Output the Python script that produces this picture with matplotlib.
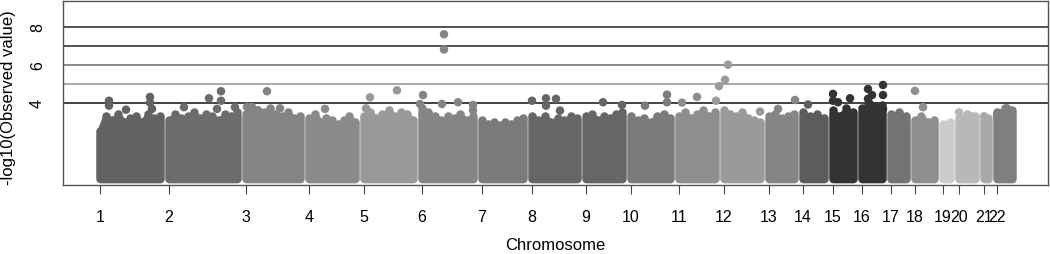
import numpy as np
import matplotlib
matplotlib.use("Agg")
from matplotlib import pyplot as plt

plt.rcParams["font.family"] = ["Liberation Sans", "DejaVu Sans"]

# chromosome names and start positions (cumulative plot units)
chroms = [str(c) for c in range(1, 23)]
chrom_start = [37, 106, 183, 246, 301, 359, 419, 469, 523, 568, 616, 661,
               706, 740, 770, 799, 828, 852, 880, 896, 921, 934]
chrom_end_last = 949

# grey level of each chromosome
chrom_color = ["#636363", "#6c6c6c", "#848484", "#8a8a8a", "#999999", "#858585",
               "#7b7b7b", "#666666", "#666666", "#7a7a7a", "#8e8e8e", "#9a9a9a",
               "#858585", "#5c5c5c", "#333333", "#333333", "#737373", "#8f8f8f",
               "#cccccc", "#b8b8b8", "#a9a9a9", "#7f7f7f"]

# upper edge of the dense cloud of SNPs, -log10(p), per chromosome
cloud_top = [
    [2.5, 3.3, 3.1, 3.4, 3.0, 3.2, 3.3, 3.0, 3.4, 3.2, 3.3],
    [3.1, 3.4, 3.2, 3.3, 3.5, 3.2, 3.4, 3.3, 3.1, 3.4, 3.3, 3.5],
    [3.4, 3.6, 3.3, 3.5, 3.7, 3.4, 3.3, 3.5, 3.2, 3.3],
    [3.2, 3.4, 3.0, 3.2, 3.1, 2.9, 3.1, 3.3, 3.0],
    [3.3, 3.5, 3.2, 3.4, 3.6, 3.3, 3.5, 3.4, 3.1],
    [3.7, 3.5, 3.3, 3.1, 3.3, 3.2, 3.4, 3.1, 3.3],
    [3.1, 2.9, 3.0, 2.8, 3.0, 2.9, 3.1, 3.2],
    [3.3, 3.1, 3.3, 3.0, 3.2, 3.1, 3.3, 3.2],
    [3.3, 3.4, 3.1, 3.3, 3.2, 3.4, 3.5],
    [3.3, 3.1, 3.2, 3.0, 3.3, 3.4, 3.2],
    [3.3, 3.5, 3.2, 3.4, 3.6, 3.3, 3.5],
    [3.6, 3.4, 3.3, 3.5, 3.2, 3.1, 3.0],
    [3.3, 3.4, 3.2, 3.3, 3.4],
    [3.5, 3.3, 3.4, 3.2],
    [3.6, 3.3, 3.7, 3.5],
    [3.7, 4.0, 3.8, 3.9],
    [3.4, 3.5, 3.3],
    [3.1, 3.3, 3.0, 3.1],
    [2.9, 3.0],
    [3.2, 3.4, 3.3],
    [3.1, 3.2],
    [3.5, 3.7, 3.6],
]

# individual SNPs standing out above the cloud
snp_chrom = [1, 1, 1, 1, 1, 1, 2, 2, 2, 2, 2, 2, 3, 3, 3, 3, 3,
             4, 5, 5, 5, 6, 6, 6, 6, 6, 6, 6, 6, 8, 8, 8, 8, 8,
             9, 9, 10, 10, 10, 11, 11, 12, 12, 12, 12, 12,
             13, 13, 14, 15, 15, 15, 15, 16, 16, 16, 16, 16, 16,
             18, 18, 20, 20, 21, 22, 22]
snp_pos = [46, 46, 63, 87, 87, 89, 121, 146, 158, 158, 154, 172, 184, 189, 204, 195, 217,
           262, 303, 307, 334, 360, 357, 379, 381, 381, 395, 410, 410, 469, 483, 483, 493, 497,
           540, 559, 582, 604, 604, 619, 634, 653, 656, 662, 665, 697,
           715, 732, 745, 770, 770, 775, 787, 805, 805, 809, 820, 820, 820,
           852, 860, 896, 909, 921, 934, 944]
snp_logp = [4.1, 3.84, 3.63, 4.3, 4.0, 3.67, 3.76, 4.23, 4.6, 4.1, 3.67, 3.76, 3.77, 3.77, 4.6, 3.6, 3.7,
            3.67, 3.7, 4.28, 4.65, 4.4, 3.93, 3.93, 7.6, 6.8, 4.02, 3.88, 3.6, 4.1, 4.23, 3.84, 4.2, 3.58,
            4.02, 3.88, 3.84, 4.42, 4.02, 4.0, 4.3, 4.1, 4.87, 5.2, 6.0, 3.53,
            3.67, 4.14, 3.9, 4.46, 4.1, 4.02, 4.23, 4.72, 4.2, 4.4, 4.93, 4.4, 3.67,
            4.62, 3.76, 3.49, 3.28, 3.28, 3.35, 3.7]

# reference lines and y ticks
hlines = [4, 5, 6, 7, 8]
hline_color = ["#222222", "#999999", "#777777", "#333333", "#333333"]
yticks = [4, 6, 8]

pt_size = 6.1  # marker diameter in points

fig = plt.figure(figsize=(10.5, 2.55), dpi=100)
ax = fig.add_axes([63 / 1050, 1 - 185.7 / 255, 985 / 1050, 183.7 / 255])

for y, c in zip(hlines, hline_color):
    ax.axhline(y, color=c, lw=1.2, zorder=1)

# dense cloud of each chromosome
chrom_end = [s - 9 for s in chrom_start[1:]] + [chrom_end_last]
for i in range(len(chroms)):
    top = cloud_top[i]
    xs = np.linspace(chrom_start[i], chrom_end[i], len(top))
    ax.fill_between(xs, 0, np.array(top) - 0.15, color=chrom_color[i], lw=pt_size,
                    edgecolor=chrom_color[i], joinstyle="round", zorder=2)
    ax.scatter(xs, top, s=pt_size ** 2, color=chrom_color[i], lw=0, zorder=2)

# standing-out SNPs
cols = [chrom_color[c - 1] for c in snp_chrom]
ax.scatter(snp_pos, snp_logp, s=pt_size ** 2, c=cols, lw=0, zorder=3)

ax.set_xlim(0, 985)
ax.set_ylim(-0.32, 9.35)

ax.set_xticks(chrom_start)
ax.set_xticklabels(chroms, fontsize=11.5)
ax.tick_params(axis="x", length=6.5, width=0.8, color="#444444", pad=11)
ax.set_yticks(yticks)
ax.set_yticklabels([str(t) for t in yticks], fontsize=11.5, rotation=90, va="center")
ax.tick_params(axis="y", length=0, pad=13)

for s in ax.spines.values():
    s.set_color("#555555")
    s.set_linewidth(1.0)

ax.set_xlabel("Chromosome", fontsize=12, va="center")
ax.xaxis.set_label_coords(0.5, -0.323)
ax.set_ylabel("-log10(Observed value)", fontsize=12, va="center")
ax.yaxis.set_label_coords(-0.055, 0.48)

fig.savefig("out.png", dpi=100)
